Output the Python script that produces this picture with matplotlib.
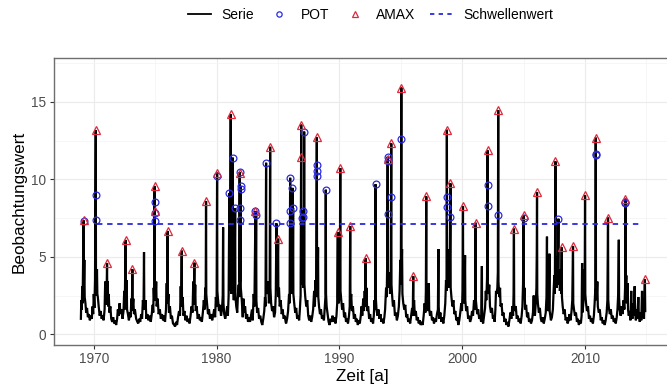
import matplotlib
matplotlib.use("Agg")
import matplotlib.pyplot as plt
from matplotlib.lines import Line2D

plt.rcParams['font.family'] = ['Liberation Sans', 'DejaVu Sans']

# ---------------- data ----------------
serie = [
(1968.95,1.0),(1968.98,2.2),(1969.02,1.6),(1969.06,3.1),(1969.09,2.0),(1969.13,4.5),(1969.17,7.35),(1969.19,3.0),(1969.23,4.8),(1969.26,2.4),(1969.32,2.0),(1969.38,1.4),(1969.45,1.7),(1969.52,1.1),(1969.6,1.3),(1969.68,0.9),(1969.76,1.2),(1969.84,1.0),(1969.9,1.8),(1969.95,1.3),(1970.0,2.6),(1970.05,1.7),(1970.1,3.5),(1970.16,13.16),(1970.18,3.2),(1970.22,2.5),(1970.26,4.2),(1970.29,2.6),(1970.33,2.4),(1970.4,1.8),(1970.48,1.2),(1970.56,1.5),(1970.64,1.0),(1970.72,1.2),(1970.8,0.9),(1970.88,1.6),(1970.93,3.4),(1970.96,2.0),(1971.0,3.0),(1971.03,1.9),(1971.08,4.6),(1971.1,2.2),(1971.14,3.4),(1971.17,1.8),(1971.22,2.6),(1971.27,1.4),(1971.35,1.8),(1971.42,1.0),(1971.5,0.8),(1971.58,1.1),(1971.66,0.7),(1971.74,0.9),(1971.82,0.6),(1971.9,1.0),(1971.96,1.6),(1972.03,1.2),(1972.1,2.0),(1972.18,1.3),(1972.26,1.6),(1972.34,1.0),(1972.42,1.5),(1972.48,2.8),(1972.52,1.6),(1972.59,6.09),(1972.62,2.2),(1972.68,3.5),(1972.71,1.6),(1972.78,1.3),(1972.86,0.9),(1972.94,1.4),(1973.0,1.1),(1973.06,2.3),(1973.1,1.5),(1973.14,4.2),(1973.17,1.8),(1973.22,2.3),(1973.27,1.3),(1973.35,1.6),(1973.45,1.0),(1973.55,0.8),(1973.62,0.7),(1973.7,1.0),(1973.78,0.8),(1973.86,1.3),(1973.93,1.0),(1974.0,2.2),(1974.05,1.6),(1974.09,5.3),(1974.11,2.2),(1974.16,1.6),(1974.22,2.2),(1974.28,1.0),(1974.36,1.3),(1974.45,0.9),(1974.55,1.2),(1974.64,0.8),(1974.72,1.3),(1974.8,1.9),(1974.84,1.4),(1974.88,3.0),(1974.92,2.2),(1974.95,9.57),(1974.97,3.0),(1975.03,2.2),(1975.08,3.4),(1975.12,1.8),(1975.2,2.3),(1975.28,1.3),(1975.38,1.6),(1975.46,1.0),(1975.55,1.3),(1975.64,0.9),(1975.72,1.2),(1975.8,0.8),(1975.88,1.6),(1975.94,3.3),(1975.97,2.0),(1976.01,6.67),(1976.03,2.0),(1976.08,2.6),(1976.12,1.4),(1976.2,1.8),(1976.28,1.0),(1976.36,1.2),(1976.45,0.7),(1976.55,0.6),(1976.62,0.5),(1976.7,0.8),(1976.78,0.6),(1976.86,1.1),(1976.94,1.5),(1977.02,1.2),(1977.08,3.1),(1977.12,1.8),(1977.16,5.4),(1977.18,2.0),(1977.24,2.4),(1977.3,1.2),(1977.38,1.5),(1977.46,0.9),(1977.55,1.2),(1977.64,0.8),(1977.72,1.0),(1977.8,0.7),(1977.88,1.2),(1977.96,1.8),(1978.04,1.4),(1978.1,3.4),(1978.14,1.9),(1978.19,4.62),(1978.21,2.0),(1978.26,3.2),(1978.3,1.5),(1978.38,1.8),(1978.46,1.0),(1978.55,1.3),(1978.64,0.9),(1978.72,1.1),(1978.8,0.8),(1978.88,1.4),(1978.96,2.2),(1979.02,1.6),(1979.08,3.0),(1979.11,2.0),(1979.14,8.6),(1979.16,2.6),(1979.22,2.0),(1979.3,1.3),(1979.38,1.6),(1979.46,1.0),(1979.55,1.3),(1979.64,0.9),(1979.72,1.2),(1979.8,1.6),(1979.88,1.1),(1979.94,2.4),(1980.0,1.8),(1980.04,10.43),(1980.06,2.8),(1980.12,2.2),(1980.2,1.5),(1980.28,1.9),(1980.36,1.2),(1980.44,1.6),(1980.5,2.5),(1980.53,6.9),(1980.56,2.0),(1980.62,1.3),(1980.7,1.0),(1980.78,1.3),(1980.86,1.8),(1980.92,1.2),(1980.98,2.5),(1981.04,9.1),(1981.06,2.8),(1981.1,3.2),(1981.15,14.19),(1981.17,3.4),(1981.22,2.6),(1981.26,4.0),(1981.31,11.4),(1981.33,3.0),(1981.4,2.2),(1981.46,3.0),(1981.51,8.15),(1981.53,2.5),(1981.6,1.8),(1981.68,1.4),(1981.74,2.6),(1981.8,3.2),(1981.84,2.4),(1981.88,10.47),(1981.9,3.4),(1981.95,9.57),(1981.97,3.0),(1982.05,2.2),(1982.13,1.1),(1982.18,2.3),(1982.24,1.4),(1982.32,1.8),(1982.4,1.0),(1982.48,1.3),(1982.56,0.8),(1982.64,1.1),(1982.72,0.8),(1982.8,1.2),(1982.88,1.6),(1982.94,0.9),(1983.02,2.6),(1983.08,1.8),(1983.16,7.96),(1983.18,2.5),(1983.22,7.7),(1983.24,2.2),(1983.3,1.4),(1983.38,1.7),(1983.46,1.0),(1983.55,1.2),(1983.64,0.8),(1983.72,0.6),(1983.8,1.0),(1983.88,1.5),(1983.94,2.4),(1983.98,1.8),(1984.03,11.07),(1984.05,3.0),(1984.12,2.6),(1984.2,3.4),(1984.26,2.0),(1984.32,3.0),(1984.36,12.1),(1984.38,3.0),(1984.44,2.0),(1984.52,1.5),(1984.6,1.8),(1984.68,1.1),(1984.76,1.4),(1984.82,2.6),(1984.87,7.16),(1984.89,2.8),(1984.95,3.2),(1985.01,6.17),(1985.03,2.4),(1985.08,3.0),(1985.14,1.8),(1985.22,2.2),(1985.3,1.3),(1985.38,1.6),(1985.46,1.0),(1985.55,1.2),(1985.62,0.8),(1985.66,0.7),(1985.74,1.0),(1985.82,1.5),(1985.9,2.6),(1985.94,2.0),(1985.99,10.1),(1986.01,3.0),(1986.08,2.6),(1986.13,3.5),(1986.18,9.45),(1986.2,3.2),(1986.23,8.15),(1986.25,2.6),(1986.32,2.0),(1986.4,1.4),(1986.48,1.7),(1986.56,1.0),(1986.64,1.2),(1986.72,0.9),(1986.78,1.6),(1986.84,2.5),(1986.89,13.53),(1986.91,3.4),(1986.95,4.0),(1986.97,7.5),(1986.99,3.2),(1987.05,7.98),(1987.07,3.0),(1987.11,4.0),(1987.13,13.08),(1987.15,3.2),(1987.22,2.4),(1987.3,1.8),(1987.38,2.2),(1987.46,1.2),(1987.54,0.9),(1987.62,1.2),(1987.7,0.8),(1987.78,1.1),(1987.86,1.6),(1987.94,2.8),(1988.0,1.8),(1988.06,3.5),(1988.1,2.4),(1988.16,12.7),(1988.18,3.6),(1988.22,3.0),(1988.26,5.6),(1988.28,2.4),(1988.34,1.8),(1988.42,1.3),(1988.5,1.6),(1988.58,1.0),(1988.66,1.2),(1988.74,0.9),(1988.8,1.6),(1988.86,2.4),(1988.89,9.33),(1988.91,2.6),(1988.96,1.8),(1989.04,1.3),(1989.12,0.8),(1989.2,0.6),(1989.28,1.0),(1989.36,0.8),(1989.44,1.2),(1989.52,0.8),(1989.6,1.1),(1989.68,0.7),(1989.76,1.2),(1989.82,2.0),(1989.87,6.6),(1989.89,2.4),(1989.95,2.0),(1990.03,3.0),(1990.07,10.73),(1990.09,2.8),(1990.15,2.2),(1990.22,1.6),(1990.3,2.0),(1990.38,1.1),(1990.46,1.4),(1990.54,0.8),(1990.62,1.0),(1990.7,0.7),(1990.78,1.2),(1990.84,1.8),(1990.88,6.99),(1990.9,2.0),(1990.96,2.6),(1991.02,1.5),(1991.1,1.8),(1991.18,1.0),(1991.26,1.3),(1991.34,0.8),(1991.42,1.0),(1991.5,0.6),(1991.58,0.9),(1991.66,0.7),(1991.74,1.2),(1991.8,1.8),(1991.86,1.2),(1991.94,2.3),(1992.0,1.5),(1992.06,2.8),(1992.1,1.8),(1992.13,4.9),(1992.15,2.0),(1992.2,3.0),(1992.26,1.5),(1992.34,1.8),(1992.42,1.0),(1992.5,1.3),(1992.58,0.8),(1992.66,1.0),(1992.74,0.7),(1992.8,1.2),(1992.86,2.2),(1992.91,1.6),(1992.94,9.68),(1992.96,2.4),(1993.02,1.6),(1993.1,1.2),(1993.18,1.6),(1993.26,1.0),(1993.34,1.3),(1993.42,0.8),(1993.5,1.0),(1993.58,0.7),(1993.66,1.1),(1993.72,1.6),(1993.8,3.0),(1993.85,2.4),(1993.89,4.5),(1993.93,11.46),(1993.95,3.8),(1994.02,3.0),(1994.08,4.0),(1994.12,2.6),(1994.18,3.4),(1994.22,12.32),(1994.24,3.2),(1994.3,2.4),(1994.36,1.8),(1994.44,2.2),(1994.52,1.2),(1994.6,1.4),(1994.68,0.9),(1994.76,1.2),(1994.84,1.8),(1994.9,2.8),(1994.96,4.8),(1995.0,3.2),(1995.04,15.92),(1995.06,4.0),(1995.1,5.5),(1995.13,2.6),(1995.2,2.0),(1995.28,1.6),(1995.36,1.9),(1995.44,1.1),(1995.52,1.3),(1995.6,0.8),(1995.68,1.0),(1995.76,0.7),(1995.84,1.2),(1995.92,1.7),(1995.97,1.2),(1996.01,3.76),(1996.03,1.6),(1996.08,2.2),(1996.14,1.2),(1996.22,1.5),(1996.3,0.9),(1996.38,1.1),(1996.46,0.7),(1996.54,0.9),(1996.62,0.6),(1996.7,0.8),(1996.78,0.6),(1996.86,1.2),(1996.94,2.0),(1997.0,1.4),(1997.04,2.8),(1997.07,8.9),(1997.09,2.6),(1997.15,2.2),(1997.22,1.5),(1997.28,3.3),(1997.31,1.6),(1997.38,1.2),(1997.46,1.5),(1997.54,0.9),(1997.62,1.1),(1997.7,0.7),(1997.78,1.0),(1997.86,0.8),(1997.94,1.3),(1998.02,1.6),(1998.06,5.5),(1998.08,1.8),(1998.14,1.0),(1998.22,1.4),(1998.3,0.8),(1998.38,1.1),(1998.46,0.7),(1998.54,1.2),(1998.62,2.0),(1998.68,3.5),(1998.72,2.8),(1998.75,13.2),(1998.77,4.0),(1998.82,5.5),(1998.86,3.0),(1998.92,4.0),(1998.98,3.2),(1999.04,9.74),(1999.06,3.0),(1999.12,2.4),(1999.2,1.8),(1999.28,2.2),(1999.36,1.3),(1999.44,1.5),(1999.52,0.9),(1999.6,1.1),(1999.68,0.6),(1999.76,0.9),(1999.84,1.4),(1999.92,2.0),(1999.98,1.5),(2000.02,2.8),(2000.06,8.28),(2000.08,2.6),(2000.14,2.0),(2000.2,3.0),(2000.23,5.1),(2000.25,2.2),(2000.32,1.5),(2000.4,1.8),(2000.48,1.0),(2000.56,1.2),(2000.64,0.8),(2000.72,1.0),(2000.8,1.5),(2000.88,1.2),(2000.96,2.2),(2001.02,1.6),(2001.06,2.6),(2001.09,7.2),(2001.11,2.2),(2001.16,1.8),(2001.22,1.3),(2001.3,1.6),(2001.38,1.0),(2001.46,1.2),(2001.54,0.8),(2001.6,4.4),(2001.62,1.0),(2001.7,0.7),(2001.78,1.2),(2001.86,1.7),(2001.92,2.8),(2001.96,2.2),(2002.02,3.6),(2002.06,11.87),(2002.08,3.4),(2002.14,2.6),(2002.2,3.2),(2002.26,1.8),(2002.34,1.4),(2002.42,1.7),(2002.5,1.0),(2002.58,1.2),(2002.64,0.8),(2002.7,1.6),(2002.75,2.8),(2002.8,2.6),(2002.86,3.0),(2002.9,4.0),(2002.93,14.47),(2002.95,3.4),(2003.02,2.4),(2003.08,3.0),(2003.12,1.8),(2003.2,2.0),(2003.28,1.2),(2003.36,1.4),(2003.44,0.8),(2003.52,1.0),(2003.6,0.6),(2003.68,0.8),(2003.76,0.5),(2003.84,0.9),(2003.92,1.4),(2004.0,1.0),(2004.08,1.8),(2004.14,1.2),(2004.18,2.6),(2004.21,6.82),(2004.23,2.0),(2004.28,1.5),(2004.36,1.8),(2004.44,1.0),(2004.52,1.2),(2004.6,0.8),(2004.68,1.0),(2004.76,0.7),(2004.84,1.2),(2004.9,1.8),(2004.95,3.2),(2005.0,7.7),(2005.02,2.4),(2005.08,3.0),(2005.12,1.6),(2005.2,1.9),(2005.28,1.1),(2005.36,1.4),(2005.44,0.8),(2005.52,1.0),(2005.6,0.7),(2005.68,0.9),(2005.76,1.4),(2005.82,2.5),(2005.86,1.5),(2005.92,1.2),(2006.0,2.2),(2006.04,3.0),(2006.07,5.4),(2006.09,9.18),(2006.11,2.6),(2006.16,2.0),(2006.24,1.4),(2006.32,1.7),(2006.4,1.0),(2006.48,0.8),(2006.56,1.1),(2006.64,0.7),(2006.72,1.0),(2006.8,1.4),(2006.86,2.4),(2006.9,6.3),(2006.92,2.0),(2006.98,1.5),(2007.06,1.8),(2007.1,5.2),(2007.12,1.5),(2007.22,0.9),(2007.3,1.1),(2007.38,1.6),(2007.44,2.8),(2007.5,3.8),(2007.54,2.6),(2007.59,11.16),(2007.61,3.4),(2007.66,4.5),(2007.7,3.0),(2007.75,5.0),(2007.78,3.2),(2007.83,7.46),(2007.85,3.4),(2007.9,4.2),(2007.95,2.8),(2008.02,3.6),(2008.06,2.6),(2008.1,5.6),(2008.12,2.4),(2008.18,1.8),(2008.26,1.3),(2008.34,1.6),(2008.42,0.9),(2008.5,1.1),(2008.58,0.7),(2008.66,0.9),(2008.74,1.3),(2008.82,0.9),(2008.9,1.5),(2008.96,2.2),(2009.02,5.7),(2009.04,2.0),(2009.1,1.6),(2009.18,1.2),(2009.26,1.4),(2009.34,0.8),(2009.42,1.0),(2009.5,0.6),(2009.58,0.9),(2009.66,0.7),(2009.72,1.2),(2009.76,4.6),(2009.78,1.4),(2009.84,1.8),(2009.9,2.6),(2009.94,4.2),(2009.97,2.6),(2010.0,8.97),(2010.02,2.6),(2010.08,2.0),(2010.16,1.5),(2010.24,1.8),(2010.32,1.0),(2010.4,1.2),(2010.48,0.8),(2010.56,1.0),(2010.64,0.7),(2010.72,1.2),(2010.78,2.0),(2010.84,3.0),(2010.87,12.69),(2010.89,2.8),(2010.94,2.2),(2011.0,3.4),(2011.04,1.8),(2011.12,1.4),(2011.2,1.6),(2011.28,0.9),(2011.36,1.1),(2011.44,0.7),(2011.52,0.9),(2011.6,0.6),(2011.68,0.9),(2011.76,1.4),(2011.82,2.2),(2011.87,7.53),(2011.89,2.2),(2011.94,1.7),(2012.02,1.3),(2012.1,1.6),(2012.18,1.0),(2012.26,1.2),(2012.34,0.8),(2012.42,1.0),(2012.5,0.7),(2012.58,1.1),(2012.64,1.6),(2012.7,2.6),(2012.75,6.1),(2012.77,2.4),(2012.82,1.6),(2012.9,1.2),(2012.98,1.8),(2013.06,1.3),(2013.14,2.2),(2013.2,1.6),(2013.26,3.0),(2013.29,8.75),(2013.31,2.8),(2013.36,3.8),(2013.4,2.0),(2013.46,3.3),(2013.5,1.6),(2013.56,1.2),(2013.62,1.5),(2013.7,0.9),(2013.76,2.8),(2013.8,1.3),(2013.86,1.0),(2013.92,2.0),(2013.97,1.2),(2014.04,3.1),(2014.08,1.4),(2014.14,0.9),(2014.2,1.6),(2014.26,1.0),(2014.34,2.4),(2014.38,1.2),(2014.46,0.8),(2014.52,1.4),(2014.58,0.9),(2014.64,2.8),(2014.68,1.1),(2014.74,1.6),(2014.8,1.0),(2014.87,3.55),(2014.9,1.5),
]
serie_zeit = [p[0] for p in serie]
serie_wert = [p[1] for p in serie]

pot_zeit = [1969.17, 1970.16, 1970.16, 1974.95, 1974.95, 1974.95, 1980.04, 1981.04, 1981.31, 1981.51,
            1981.88, 1981.88, 1981.88, 1981.95, 1981.95, 1983.16, 1983.22, 1984.03, 1984.87, 1985.99,
            1985.99, 1985.99, 1986.18, 1986.23, 1986.97, 1987.05, 1987.05, 1987.13, 1988.16, 1988.16,
            1988.16, 1988.89, 1992.94, 1993.93, 1993.93, 1993.93, 1994.22, 1995.04, 1998.75, 1998.75,
            1999.04, 2002.06, 2002.06, 2002.93, 2005.0, 2007.83, 2010.87, 2010.87, 2013.29, 2013.29]
pot_wert = [7.31, 8.99, 7.4, 8.56, 7.8, 7.29, 10.2, 9.1, 11.4, 8.15,
            10.47, 8.15, 7.35, 9.57, 9.35, 7.94, 7.7, 11.07, 7.16, 10.1,
            7.98, 7.2, 9.45, 8.15, 7.5, 7.98, 7.55, 13.08, 10.95, 10.56,
            10.2, 9.33, 9.68, 11.46, 11.2, 7.79, 8.84, 12.62, 8.86, 8.21,
            7.57, 9.63, 8.28, 7.68, 7.53, 7.46, 11.66, 11.6, 8.54, 8.5]

amax_zeit = [1969.17, 1970.16, 1971.08, 1972.59, 1973.14, 1974.95, 1974.95, 1976.01, 1977.16, 1978.19,
             1979.14, 1980.04, 1981.15, 1981.88, 1983.16, 1984.36, 1985.01, 1986.89, 1986.89, 1988.16,
             1989.87, 1990.07, 1990.88, 1992.13, 1993.93, 1994.22, 1995.04, 1996.01, 1997.07, 1998.75,
             1999.04, 2000.06, 2001.09, 2002.06, 2002.93, 2004.21, 2005.0, 2006.09, 2007.59, 2008.1,
             2009.02, 2010.0, 2010.87, 2011.87, 2013.29, 2014.87]
amax_wert = [7.35, 13.16, 4.6, 6.09, 4.2, 7.96, 9.57, 6.67, 5.4, 4.62,
             8.6, 10.43, 14.19, 10.39, 7.96, 12.1, 6.17, 11.46, 13.53, 12.7,
             6.6, 10.73, 6.99, 4.9, 11.3, 12.32, 15.92, 3.76, 8.9, 13.2,
             9.74, 8.28, 7.2, 11.87, 14.47, 6.82, 7.7, 9.18, 11.16, 5.6,
             5.7, 8.97, 12.69, 7.53, 8.75, 3.55]

schwelle_zeit = [1970.25, 2014.65]
schwelle_wert = [7.14, 7.14]

x_ticks = [1970, 1980, 1990, 2000, 2010]
y_ticks = [0, 5, 10, 15]

# ---------------- styling ----------------
BLUE = '#2A2AE0'
RED = '#E0283C'

fig = plt.figure(figsize=(6.67, 3.87), dpi=100)
ax = fig.add_axes([53.5/667, 1-344.5/387, (672-53.5)/667, (344.5-58.3)/387])

ax.plot(serie_zeit, serie_wert, color='black', lw=1.6, zorder=3, solid_joinstyle='miter')
ax.plot(schwelle_zeit, schwelle_wert, color=BLUE, lw=1.3, ls=(0, (3.0, 2.6)), zorder=4)
ax.plot(pot_zeit, pot_wert, ls='none', marker='o', ms=4.9, mfc='none', mec=BLUE, mew=0.9, zorder=5)
ax.plot(amax_zeit, amax_wert, ls='none', marker='^', ms=5.8, mfc='none', mec=RED, mew=0.9, zorder=6)

ax.set_xlim(1966.72, 2017.08)
ax.set_ylim(-0.66, 17.81)
ax.set_xticks(x_ticks)
ax.set_yticks(y_ticks)
ax.set_xticks([1975, 1985, 1995, 2005, 2015], minor=True)
ax.set_yticks([2.5, 7.5, 12.5, 17.5], minor=True)
ax.grid(which='major', color='#EBEBEB', lw=0.8, zorder=0)
ax.grid(which='minor', color='#F2F2F2', lw=0.45, zorder=0)
ax.set_axisbelow(True)
ax.tick_params(which='minor', length=0)
ax.tick_params(which='major', length=3.0, width=0.8, color='#333333',
               labelcolor='#4D4D4D', labelsize=9.8, pad=2.5)
for s in ax.spines.values():
    s.set_color('#6E6E6E')
    s.set_linewidth(1.0)
ax.spines['right'].set_visible(False)

ax.set_xlabel('Zeit [a]', fontsize=12.3, labelpad=2)
ax.set_ylabel('Beobachtungswert', fontsize=12.3, labelpad=3)

handles = [
    Line2D([], [], color='black', lw=1.3),
    Line2D([], [], ls='none', marker='o', ms=3.8, mfc='none', mec=BLUE, mew=0.9),
    Line2D([], [], ls='none', marker='^', ms=4.2, mfc='none', mec=RED, mew=0.9),
    Line2D([], [], color=BLUE, lw=1.3, ls=(0, (2.4, 2.4))),
]
labels = ['Serie', 'POT', 'AMAX', 'Schwellenwert']
fig.legend(handles, labels, loc='center', bbox_to_anchor=(0.555, 0.961), ncol=4,
           frameon=False, fontsize=10, handlelength=1.7, handletextpad=0.7,
           columnspacing=1.0, borderpad=0, borderaxespad=0)

fig.savefig('out.png', dpi=100)
